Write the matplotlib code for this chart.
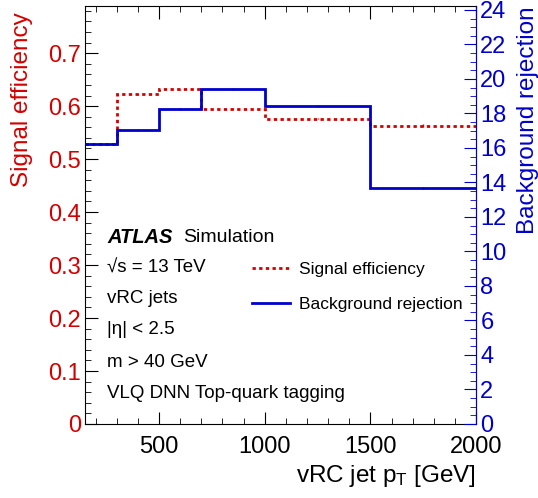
import numpy as np
import matplotlib
matplotlib.use('agg')
import matplotlib.pyplot as plt
from matplotlib.ticker import MultipleLocator

plt.rcParams['font.family'] = ['Liberation Sans', 'DejaVu Sans']
plt.rcParams['mathtext.fontset'] = 'custom'
plt.rcParams['mathtext.rm'] = 'Liberation Sans'
plt.rcParams['mathtext.it'] = 'Liberation Sans:italic'

# binning in jet pT [GeV]
edges = [150, 300, 500, 700, 1000, 1500, 2000]
# signal efficiency (left axis)
sig_eff = [0.528, 0.622, 0.632, 0.595, 0.576, 0.563]
sig_err = [0.001, 0.001, 0.001, 0.001, 0.001, 0.003]
# background rejection (right axis)
bkg_rej = [16.25, 17.03, 18.27, 19.40, 18.45, 13.67]
bkg_err = [0.05, 0.05, 0.05, 0.05, 0.05, 0.05]

red = '#d40000'
blue = '#0000cc'
centers = 0.5 * (np.array(edges[:-1]) + np.array(edges[1:]))

fig = plt.figure(figsize=(5.38, 4.98), dpi=100)
ax = fig.add_axes([0.158, 0.1486, 0.727, 0.8394])
ax2 = ax.twinx()

ax.stairs(sig_eff, edges, color=red, lw=2, ls=(0, (1.2, 1.2)), baseline=None,
          label='Signal efficiency')
ax.errorbar(centers, sig_eff, yerr=sig_err, fmt='none', ecolor=red, lw=1)
ax2.stairs(bkg_rej, edges, color=blue, lw=2, baseline=None,
           label='Background rejection')
ax2.errorbar(centers, bkg_rej, yerr=bkg_err, fmt='none', ecolor=blue, lw=1)

ax.set_xlim(150, 2000)
ax.set_ylim(0, 0.789)
ax2.set_ylim(0, 24.23)

# axes styling (ROOT-like inward ticks)
ax.xaxis.set_major_locator(MultipleLocator(500))
ax.xaxis.set_minor_locator(MultipleLocator(100))
ax.yaxis.set_major_locator(MultipleLocator(0.1))
ax.yaxis.set_minor_locator(MultipleLocator(0.02))
ax2.yaxis.set_major_locator(MultipleLocator(2))
ax2.yaxis.set_minor_locator(MultipleLocator(0.5))

ax.tick_params(which='both', direction='in', top=True, right=False, labelsize=17)
ax.tick_params(which='major', length=9)
ax.tick_params(which='minor', length=4.5)
ax.tick_params(axis='x', pad=9)
ax.tick_params(axis='y', labelcolor=red, pad=3)
ax.yaxis.set_major_formatter(matplotlib.ticker.FuncFormatter(
    lambda v, p: '0' if abs(v) < 1e-9 else f'{v:.1f}'))

ax2.tick_params(which='both', direction='in', colors=blue, labelsize=17, pad=3)
ax2.tick_params(which='major', length=9)
ax2.tick_params(which='minor', length=4.5)
ax2.spines['right'].set_color(blue)
for s in ['left', 'top', 'bottom']:
    ax2.spines[s].set_visible(False)

ax.set_xlabel('vRC jet p$_\\mathregular{T}$ [GeV]', fontsize=17.5, loc='right')
ax.xaxis.set_label_coords(1.0, -0.124)
ax.xaxis.label.set_va('center')

ax.set_ylabel('Signal efficiency', fontsize=17.5, color=red, loc='top')
ax.yaxis.set_label_coords(-0.161, 0.985)
ax.yaxis.label.set_va('center')

ax2.set_ylabel('Background rejection', fontsize=17.5, color=blue, loc='top')
ax2.yaxis.set_label_coords(1.133, 1.0)
ax2.yaxis.label.set_va('center')

# annotation block
tx = 0.056
ax.text(tx, 0.447, 'ATLAS', fontsize=14.5, fontweight='bold', fontstyle='italic',
        transform=ax.transAxes, va='center')
ax.text(0.251, 0.447, 'Simulation', fontsize=14, transform=ax.transAxes, va='center')
lines = ['\u221as = 13 TeV', 'vRC jets', '|\u03b7| < 2.5',
         'm > 40 GeV', 'VLQ DNN Top-quark tagging']
ys = [0.373, 0.301, 0.225, 0.148, 0.074]
for t, y in zip(lines, ys):
    ax.text(tx, y, t, fontsize=13.5, transform=ax.transAxes, va='center')

h1, l1 = ax.get_legend_handles_labels()
h2, l2 = ax2.get_legend_handles_labels()
leg = ax2.legend(h1[:1] + h2[:1], l1[:1] + l2[:1], loc='upper left',
                 bbox_to_anchor=(0.427, 0.388), frameon=False, fontsize=12.5,
                 handlelength=2.2, handletextpad=0.5, labelspacing=1.15,
                 borderpad=0, borderaxespad=0)

fig.savefig('out.png', dpi=100)
